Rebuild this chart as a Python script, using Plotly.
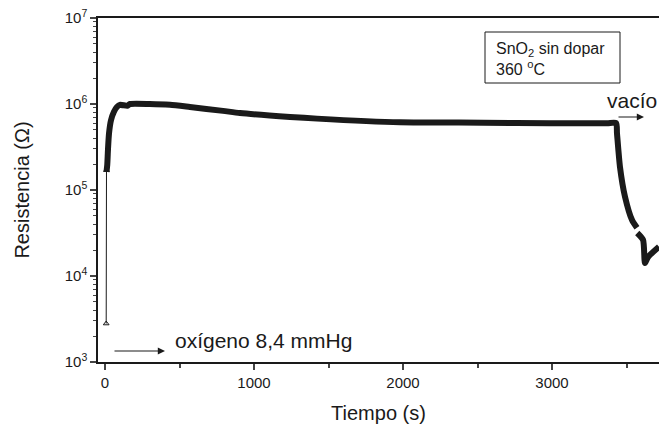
import plotly.graph_objects as go

# ---- data ----
t_start = [8, 10]
r_start = [2.8e3, 1.7e5]

t_main = [10, 15, 20, 27, 40, 60, 80, 100, 150, 168, 300, 436, 570, 792, 906, 1242, 1423,
          1980, 2537, 2987, 3369, 3430, 3436, 3456, 3490, 3537, 3570, None,
          3572, 3611, 3624, 3644, 3718]
logr_main = [5.21, 5.29, 5.47, 5.66, 5.81, 5.91, 5.965, 5.99, 5.98, 6.0, 6.0, 5.99, 5.965, 5.92,
             5.895, 5.85, 5.83, 5.787, 5.783, 5.776, 5.776, 5.78, 5.66, 5.27, 4.92, 4.65, 4.56, None,
             4.50, 4.42, 4.15, 4.22, 4.34]
r_main = [None if v is None else 10 ** v for v in logr_main]

ytick_vals = [1e3, 1e4, 1e5, 1e6, 1e7]
ytick_text = ["10<sup>3</sup>", "10<sup>4</sup>", "10<sup>5</sup>", "10<sup>6</sup>", "10<sup>7</sup>"]
xtick_vals = [0, 1000, 2000, 3000]

FONT = "Liberation Sans, Arial, sans-serif"
INK = "#1a1a1a"

fig = go.Figure()
fig.add_trace(go.Scatter(x=t_start, y=r_start, mode="lines+markers",
                         line=dict(color=INK, width=1),
                         marker=dict(symbol="triangle-up-open", size=5, color=INK),
                         showlegend=False))
fig.add_trace(go.Scatter(x=t_main, y=r_main, mode="lines",
                         line=dict(color=INK, width=6, shape="spline", smoothing=0.6),
                         connectgaps=False, showlegend=False))

minor_vals = [m * 10 ** d for d in range(3, 7) for m in range(2, 10)]

fig.update_layout(
    width=659, height=426,
    margin=dict(l=98, r=0, t=18, b=64),
    plot_bgcolor="white", paper_bgcolor="white",
    font=dict(family=FONT, color=INK, size=15),
    xaxis=dict(range=[-47, 3718], tickvals=xtick_vals, ticks="outside", ticklen=6, tickwidth=1.5,
               showline=True, linewidth=1.5, linecolor=INK, mirror=True, showgrid=False, zeroline=False,
               tickfont=dict(size=15),
               minor=dict(tickvals=[500, 1500, 2500, 3500], ticks="outside", ticklen=4, tickwidth=1.5),
               title=dict(text="Tiempo (s)", font=dict(size=20), standoff=16)),
    yaxis=dict(type="log", range=[3, 7], tickvals=ytick_vals, ticktext=ytick_text,
               ticks="outside", ticklen=6, tickwidth=1.5,
               showline=True, linewidth=1.5, linecolor=INK, showgrid=False, zeroline=False,
               tickfont=dict(size=15),
               minor=dict(tickvals=minor_vals, ticks="outside", ticklen=3, tickwidth=1),
               title=dict(text="Resistencia (Ω)", font=dict(size=20), standoff=30)),
)

def px(p):
    return (p - 98) / 561.0

def py(p):
    return (362 - p) / 344.0

# box
fig.add_shape(type="rect", xref="paper", yref="paper", x0=px(485), x1=px(620), y0=py(83), y1=py(32),
              line=dict(color=INK, width=1))
fig.add_annotation(xref="paper", yref="paper", x=px(494), y=py(59), xanchor="left", yanchor="middle",
                   text="SnO<sub>2</sub> sin dopar<br>360 <sup>o</sup>C", align="left",
                   showarrow=False, font=dict(size=16))

# oxygen
fig.add_annotation(xref="paper", yref="paper", x=px(173), y=py(340), xanchor="left", yanchor="middle",
                   text="oxígeno 8,4 mmHg", showarrow=False, font=dict(size=21))
fig.add_annotation(xref="paper", yref="paper", x=px(165), y=py(351), ax=-52, ay=0,
                   text="", showarrow=True, arrowhead=2,
                   arrowsize=1.2, arrowwidth=1.2, arrowcolor=INK)

# vacio
fig.add_annotation(xref="paper", yref="paper", x=px(605), y=py(100), xanchor="left", yanchor="middle",
                   text="vacío", showarrow=False, font=dict(size=21))
fig.add_annotation(xref="paper", yref="paper", x=px(644), y=py(117), ax=-27, ay=0,
                   text="", showarrow=True, arrowhead=2,
                   arrowsize=1.2, arrowwidth=1.2, arrowcolor=INK)

fig.write_html("out.html")
